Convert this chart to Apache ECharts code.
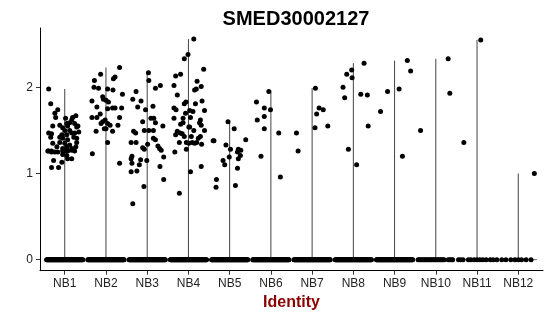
<!DOCTYPE html>
<html>
<head>
<meta charset="utf-8">
<script src="https://cdn.jsdelivr.net/npm/echarts@6/dist/echarts.min.js"></script>
<style>html,body{margin:0;padding:0;background:#fff;}#chart{width:550px;height:316px;}</style>
</head>
<body>
<div id="chart"></div>
<script>
const categories = ['NB1','NB2','NB3','NB4','NB5','NB6','NB7','NB8','NB9','NB10','NB11','NB12'];
const yTicks = [0, 1, 2];
const titleText = 'SMED30002127';
const xTitle = 'Identity';

// non-zero expression points per group: [jitter, value]
const nb1Points = [[-0.39,1.98],[-0.34,1.81],[-0.17,1.74],[-0.24,1.70],[-0.22,1.65],[-0.12,1.56],[-0.29,1.55],[-0.39,1.47],[-0.32,1.46],[-0.34,1.42],[-0.29,1.35],[-0.39,1.26],[-0.32,1.25],[-0.24,1.25],[-0.19,1.31],[-0.12,1.36],[-0.07,1.45],[-0.05,1.53],[0.19,1.65],[0.27,1.67],[0.17,1.62],[0.24,1.58],[0.05,1.58],[0.07,1.55],[0.00,1.50],[0.12,1.50],[0.29,1.54],[0.32,1.55],[0.05,1.45],[0.17,1.47],[0.24,1.47],[-0.05,1.41],[0.07,1.39],[0.29,1.41],[0.22,1.42],[0.00,1.35],[0.12,1.33],[0.29,1.36],[-0.05,1.29],[0.05,1.31],[0.17,1.29],[0.27,1.31],[0.00,1.26],[0.07,1.26],[0.24,1.26],[-0.05,1.22],[0.05,1.21],[-0.41,1.26],[-0.32,1.26],[-0.17,1.25],[-0.05,1.26],[0.07,1.27],[0.17,1.27],[-0.27,1.15],[-0.07,1.13],[0.07,1.17],[0.17,1.17],[-0.32,1.07],[-0.15,1.07],[0.02,1.64],[0.12,1.59],[0.34,1.48],[-0.12,1.42]];
const nb2Points = [[0.33,2.23],[-0.13,2.15],[-0.28,2.08],[0.18,2.10],[0.22,2.12],[-0.29,2.00],[-0.18,1.99],[0.04,1.98],[0.17,1.97],[0.40,1.92],[-0.08,1.89],[-0.06,1.86],[0.00,1.85],[0.06,1.83],[-0.34,1.84],[-0.22,1.77],[0.04,1.75],[0.16,1.76],[0.22,1.76],[0.38,1.76],[-0.14,1.69],[-0.34,1.65],[-0.22,1.65],[0.33,1.65],[-0.02,1.62],[-0.12,1.58],[-0.08,1.60],[0.04,1.58],[0.10,1.56],[0.29,1.56],[-0.24,1.49],[-0.04,1.52],[0.00,1.52],[0.16,1.49],[0.04,1.36],[-0.33,1.23],[0.33,1.12]];
const nb3Points = [[0.03,2.17],[0.04,2.08],[0.32,2.02],[0.20,1.99],[-0.27,1.95],[-0.35,1.86],[-0.15,1.84],[-0.23,1.77],[-0.04,1.74],[0.14,1.78],[0.09,1.64],[0.16,1.64],[-0.11,1.60],[0.20,1.59],[0.38,1.55],[-0.33,1.49],[-0.28,1.47],[-0.07,1.50],[0.04,1.50],[0.15,1.50],[0.15,1.41],[0.20,1.39],[-0.39,1.36],[-0.27,1.36],[0.01,1.34],[0.26,1.32],[0.30,1.29],[-0.11,1.30],[-0.07,1.28],[0.34,1.27],[-0.37,1.20],[-0.39,1.17],[-0.16,1.16],[-0.01,1.15],[0.40,1.19],[-0.37,1.12],[-0.19,1.10],[0.31,1.08],[-0.39,1.02],[-0.25,1.03],[0.40,0.93],[-0.08,0.85],[-0.35,0.65]];
const nb4Points = [[0.13,2.56],[-0.01,2.38],[-0.10,2.33],[0.37,2.21],[-0.31,2.13],[-0.19,2.15],[0.21,2.07],[-0.35,2.02],[0.31,2.01],[0.15,1.97],[0.19,1.98],[-0.27,1.91],[0.33,1.84],[-0.10,1.81],[-0.06,1.83],[0.17,1.81],[-0.35,1.76],[-0.30,1.74],[0.39,1.73],[0.03,1.73],[0.11,1.72],[-0.07,1.70],[-0.35,1.64],[-0.13,1.64],[0.29,1.62],[0.27,1.59],[0.05,1.65],[-0.19,1.57],[-0.13,1.59],[0.01,1.54],[0.03,1.54],[0.31,1.56],[-0.27,1.49],[-0.20,1.47],[-0.31,1.45],[-0.15,1.46],[-0.10,1.43],[0.13,1.50],[0.39,1.50],[0.07,1.43],[0.29,1.43],[0.24,1.41],[-0.22,1.36],[-0.05,1.36],[0.01,1.35],[0.09,1.36],[0.15,1.35],[0.20,1.36],[0.32,1.34],[-0.05,1.28],[-0.33,1.25],[0.05,1.02],[0.31,1.08],[-0.22,0.77]];
const nb5Points = [[-0.04,1.60],[0.11,1.52],[-0.38,1.38],[-0.40,1.38],[0.39,1.39],[-0.09,1.33],[0.02,1.28],[0.21,1.28],[0.27,1.27],[0.19,1.25],[0.26,1.21],[-0.01,1.19],[0.21,1.17],[-0.16,1.15],[-0.12,1.10],[0.19,1.06],[-0.32,0.93],[-0.33,0.84],[0.14,0.86]];
const nb6Points = [[-0.05,1.95],[-0.35,1.83],[-0.16,1.76],[-0.01,1.74],[-0.16,1.66],[-0.33,1.62],[-0.16,1.52],[0.19,1.47],[-0.24,1.20],[0.23,0.96]];
const nb7Points = [[-0.38,1.47],[-0.34,1.26],[0.08,1.99],[0.17,1.76],[0.27,1.74],[0.11,1.69],[0.07,1.53],[0.38,1.55]];
const nb8Points = [[-0.25,2.00],[-0.21,1.88],[-0.16,2.15],[-0.04,2.20],[-0.03,2.11],[0.26,2.28],[0.18,1.92],[0.34,1.91],[0.36,1.55],[-0.12,1.28],[0.08,1.10]];
const nb9Points = [[-0.34,1.72],[-0.17,1.95],[0.11,1.98],[0.31,2.31],[0.39,2.19],[0.19,1.20]];
const nb10Points = [[-0.37,1.50],[0.30,2.33],[0.34,1.93]];
const nb11Points = [[0.09,2.55],[-0.32,1.36]];
const nb12Points = [[0.39,1.00]];
const groupPoints = [nb1Points,nb2Points,nb3Points,nb4Points,nb5Points,nb6Points,nb7Points,nb8Points,nb9Points,nb10Points,nb11Points,nb12Points];

// zero-expression cells: dense groups NB1..NB9 (count), sparse groups with read jitters
const denseZeroCounts = [70,70,70,70,70,70,70,70,70];
const nb10ZeroJitter = [-0.43,-0.40,-0.37,-0.34,-0.31,-0.28,-0.25,-0.22,-0.19,-0.16,-0.13,-0.10,-0.07,-0.04,-0.01,0.02,0.05,0.08,0.11,0.14,0.17,0.20,0.30,0.34,0.38,0.41];
const nb11ZeroJitter = [-0.45,-0.40,-0.34,-0.21,-0.15,-0.07,0.00,0.07,0.14,0.22,0.32,0.39,0.48];
const nb12ZeroJitter = [-0.40,-0.30,-0.18,-0.08,0.00,0.08,0.19,0.31];

const pointData = [];
groupPoints.forEach((pts, g) => pts.forEach(p => pointData.push([g + p[0], p[1]])));
denseZeroCounts.forEach((n, g) => {
  for (let k = 0; k < n; k++) pointData.push([g - 0.44 + 0.88 * k / (n - 1), 0]);
});
[[9, nb10ZeroJitter], [10, nb11ZeroJitter], [11, nb12ZeroJitter]].forEach(([g, js]) => js.forEach(j => pointData.push([g + j, 0])));

const violinData = groupPoints.map((pts, g) => [g, Math.max.apply(null, pts.map(p => p[1]))]);

const FONT = "'Liberation Sans', Arial, Helvetica, sans-serif";
const chart = echarts.init(document.getElementById('chart'), null, {renderer: 'canvas'});
chart.setOption({
  backgroundColor: '#ffffff',
  animation: false,
  title: {
    text: titleText, left: 291, top: 4, textAlign: 'center',
    textStyle: {fontFamily: FONT, fontWeight: 'bold', fontSize: 20, color: '#000'}
  },
  grid: {left: 40, right: 7, top: 28, bottom: 45.3, containLabel: false},
  xAxis: {
    type: 'value', min: -0.6, max: 11.6,
    name: xTitle, nameLocation: 'middle', nameGap: 22,
    nameTextStyle: {fontFamily: FONT, fontWeight: 'bold', fontSize: 16, color: '#8B0000'},
    axisLine: {show: true, onZero: false, lineStyle: {color: '#000', width: 1}},
    axisTick: {show: true, length: 4, lineStyle: {color: '#333'}, customValues: categories.map((c, i) => i)},
    axisLabel: {fontFamily: FONT, fontSize: 12, color: '#222', margin: 7,
      customValues: categories.map((c, i) => i), formatter: v => categories[Math.round(v)]},
    splitLine: {show: false}
  },
  yAxis: {
    type: 'value', min: -0.128, max: 2.688,
    axisLine: {show: true, onZero: false, lineStyle: {color: '#000', width: 1}},
    axisTick: {show: true, length: 4, lineStyle: {color: '#333'}, customValues: yTicks},
    axisLabel: {fontFamily: FONT, fontSize: 12, color: '#222', margin: 7, customValues: yTicks},
    splitLine: {show: false}
  },
  series: [
    {
      type: 'custom',
      data: violinData,
      silent: true,
      renderItem: function (params, api) {
        const g = api.value(0), top = api.value(1);
        const p0 = api.coord([g, 0]);
        const p1 = api.coord([g, top]);
        const l = api.coord([g - 0.45, 0]);
        const r = api.coord([g + 0.45, 0]);
        return {
          type: 'group',
          children: [
            {type: 'line', shape: {x1: p0[0], y1: p0[1], x2: p1[0], y2: p1[1]}, style: {stroke: '#444', lineWidth: 1}},
            {type: 'line', shape: {x1: l[0], y1: l[1], x2: r[0], y2: r[1]}, style: {stroke: '#666', lineWidth: 1}}
          ]
        };
      },
      z: 1
    },
    {
      type: 'scatter',
      data: pointData,
      symbol: 'circle',
      symbolSize: 5,
      itemStyle: {color: '#000', opacity: 1},
      silent: true,
      z: 2
    }
  ]
});
</script>
</body>
</html>
